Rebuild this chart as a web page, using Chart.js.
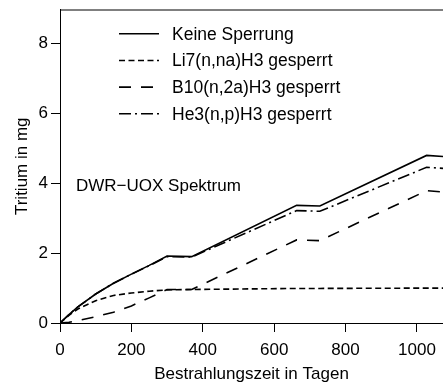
<!DOCTYPE html>
<html>
<head>
<meta charset="utf-8">
<script src="https://cdn.jsdelivr.net/npm/chart.js@4"></script>
<style>
  html, body { margin: 0; padding: 0; background: #fff; }
  #wrap { width: 443px; height: 385px; }
</style>
</head>
<body>
<div id="wrap"><canvas id="tritiumChart"></canvas></div>
<script>
// Bestrahlungszeit (Tage) und Tritium (mg)
const days = [0, 25, 50, 100, 150, 200, 250, 300, 369, 663, 728, 1027, 1073];
const keineSperrung = [0, 0.24, 0.46, 0.83, 1.14, 1.40, 1.65, 1.92, 1.90, 3.37, 3.35, 4.80, 4.77];
const li7Gesperrt   = [0, 0.22, 0.40, 0.64, 0.79, 0.86, 0.91, 0.95, 0.96, 0.99, 0.99, 1.00, 1.00];
const b10Gesperrt   = [0, 0.02, 0.07, 0.18, 0.31, 0.49, 0.72, 0.96, 0.96, 2.38, 2.36, 3.79, 3.75];
const he3Gesperrt   = [0, 0.24, 0.46, 0.83, 1.14, 1.40, 1.64, 1.90, 1.89, 3.22, 3.20, 4.46, 4.43];

const seriesLabels = ['Keine Sperrung', 'Li7(n,na)H3 gesperrt', 'B10(n,2a)H3 gesperrt', 'He3(n,p)H3 gesperrt'];
const xTicks = [0, 200, 400, 600, 800, 1000];
const yTicks = [0, 2, 4, 6, 8];

const FONT = 'Liberation Sans, Arial, Helvetica, sans-serif';

function pts(ys) {
  return days.map((d, i) => ({ x: d, y: ys[i] }));
}

function line(label, ys, dash) {
  return {
    label: label,
    data: pts(ys),
    borderColor: '#000',
    borderWidth: 1.6,
    borderDash: dash,
    pointRadius: 0,
    fill: false,
    tension: 0,
  };
}

// legend + box top + annotation text
const extras = {
  id: 'extras',
  afterDraw(chart) {
    const c = chart.ctx;
    const a = chart.chartArea;
    c.save();
    c.strokeStyle = '#000';
    c.lineWidth = 1;
    c.beginPath();
    c.moveTo(a.left, a.top + 0.5);
    c.lineTo(a.right, a.top + 0.5);
    c.stroke();

    c.font = '17.5px ' + FONT;
    c.fillStyle = '#000';
    c.textBaseline = 'middle';
    chart.data.datasets.forEach((ds, i) => {
      const y = a.top + 24.3 + i * 26.67;
      c.lineWidth = 1.6;
      c.setLineDash(ds.borderDash || []);
      c.beginPath();
      c.moveTo(a.left + 59, y);
      c.lineTo(a.left + 99, y);
      c.stroke();
      c.setLineDash([]);
      c.fillText(ds.label, a.left + 112, y + 1);
    });
    c.font = '17px ' + FONT;
    c.fillText('DWR\u2212UOX Spektrum', a.left + 16, a.top + 177);
    c.restore();
  }
};

new Chart(document.getElementById('tritiumChart'), {
  type: 'line',
  data: {
    datasets: [
      line(seriesLabels[0], keineSperrung, []),
      line(seriesLabels[1], li7Gesperrt, [6, 3.5]),
      line(seriesLabels[2], b10Gesperrt, [12, 10]),
      line(seriesLabels[3], he3Gesperrt, [12, 4, 2, 4]),
    ]
  },
  options: {
    responsive: true,
    maintainAspectRatio: false,
    animation: false,
    layout: { padding: { top: 9.5, right: 0, left: 0, bottom: 0 } },
    plugins: {
      legend: { display: false },
      tooltip: { enabled: false },
    },
    scales: {
      x: {
        type: 'linear',
        min: 0,
        max: 1073,
        afterBuildTicks: s => { s.ticks = xTicks.map(v => ({ value: v })); },
        afterFit: s => { s.height = 62; s.paddingLeft = 0; s.paddingRight = 0; },
        grid: { drawOnChartArea: false, drawTicks: true, tickLength: 9, color: '#000' },
        border: { display: true, color: '#000', width: 1 },
        ticks: {
          color: '#000',
          font: { family: FONT, size: 17 },
          padding: 8,
          maxRotation: 0,
          callback: v => String(v),
        },
        title: {
          display: true,
          text: 'Bestrahlungszeit in Tagen',
          color: '#000',
          font: { family: FONT, size: 17 },
          padding: { top: 0, bottom: 0 },
        },
      },
      y: {
        min: 0,
        max: 8.98,
        afterBuildTicks: s => { s.ticks = yTicks.map(v => ({ value: v })); },
        afterFit: s => { s.width = 60; s.paddingTop = 0; s.paddingBottom = 0; },
        grid: { drawOnChartArea: false, drawTicks: true, tickLength: 9, color: '#000' },
        border: { display: true, color: '#000', width: 1 },
        ticks: { color: '#000', font: { family: FONT, size: 17 }, padding: 3, callback: v => String(v) },
        title: {
          display: true,
          text: 'Tritium in mg',
          color: '#000',
          font: { family: FONT, size: 17 },
          padding: { top: 12, bottom: 0 },
        },
      },
    },
  },
  plugins: [extras],
});
</script>
</body>
</html>
